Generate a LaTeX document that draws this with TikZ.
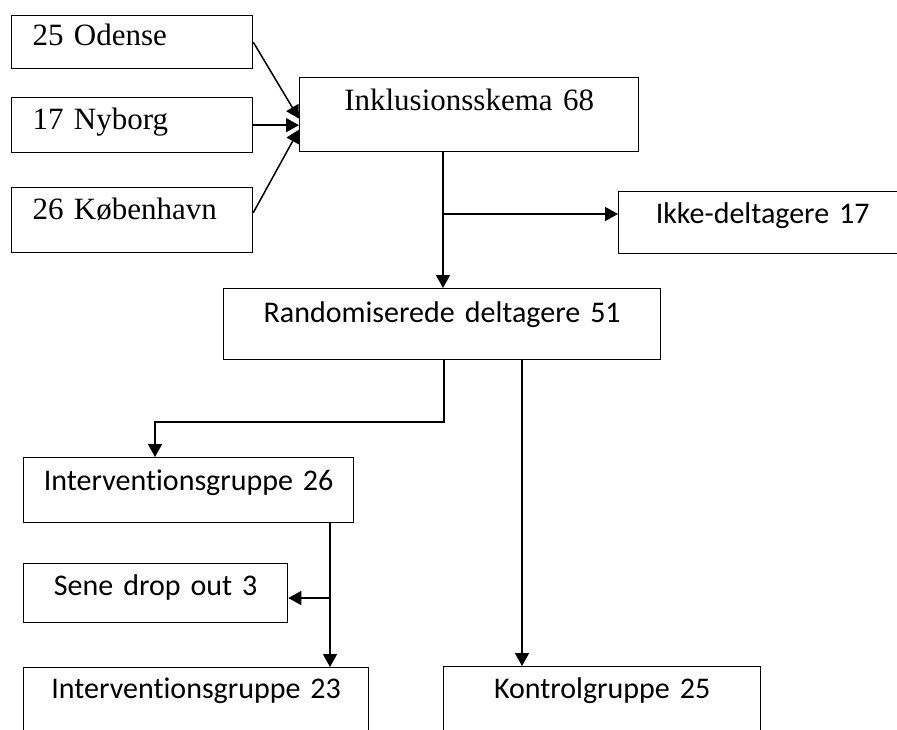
\documentclass[tikz,border=0pt]{standalone}
\usepackage{fontspec}
\setmainfont{Liberation Serif}
\newfontfamily\calfont[Ligatures={NoCommon}]{Carlito}
\usetikzlibrary{arrows.meta,calc}
\begin{document}
\begin{tikzpicture}[x=1pt,y=-1pt,
  box/.style={draw, line width=1.3pt, inner sep=0pt, anchor=north west, align=center},
  serifbox/.style={box, font=\fontsize{31}{33}\selectfont, align=left},
  serifc/.style={box, font=\fontsize{31}{33}\selectfont},
  calbox/.style={box, font=\calfont\fontsize{30}{32}\selectfont},
  ln/.style={line width=1.5pt},
  arr/.style={line width=1.5pt, -{Triangle[length=13pt,width=14pt]}}]
\useasboundingbox (0,0) rectangle (897,729);
\clip (0,0) rectangle (897,729);

\node[serifbox, text width=241pt, text height=30pt, text depth=23pt] (ode) at (11,15) {\hspace*{21pt}25 Odense};
\node[serifbox, text width=241pt, text height=32pt, text depth=23pt] (nyb) at (11,97) {\hspace*{21pt}17 Nyborg};
\node[serifbox, text width=241pt, text height=32pt, text depth=33pt] (kob) at (11,187) {\hspace*{21pt}26 København};
\node[serifc, text width=339pt, text height=33pt, text depth=41pt] (inkl) at (299,77) {Inklusionsskema 68};
\node[calbox, text width=288pt, text height=32pt, text depth=30pt] (ikke) at (618,191) {Ikke-deltagere 17};
\node[calbox, text width=437pt, text height=34pt, text depth=37pt] (rand) at (223,288) {Randomiserede deltagere 51};
\node[calbox, text width=330pt, text height=33pt, text depth=32pt] (int26) at (23,457) {Interventionsgruppe 26};
\node[calbox, text width=264pt, text height=32pt, text depth=27pt] (sene) at (23,563) {Sene drop out 3};
\node[calbox, text width=345pt, text height=31pt, text depth=47pt] (int23) at (23,667) {Interventionsgruppe 23};
\node[calbox, text width=317pt, text height=32pt, text depth=47pt] (kontrol) at (443,666) {Kontrolgruppe 25};

\coordinate (j1) at (443,214);
\coordinate (j2) at (444,422);
\coordinate (j3) at (155,422);
\coordinate (j4) at (522,400);
\coordinate (j5) at (330,598);

\draw[arr] (ode.east) -- ([yshift=-4pt]inkl.west);
\draw[arr] (nyb.east) -- (inkl.west |- nyb.east);
\draw[arr] ([yshift=7.5pt]kob.east) -- ([yshift=-15pt]inkl.west);

\draw[arr] (inkl.south -| j1) -- (rand.north -| j1);
\draw[arr] (j1) -- (ikke.west |- j1);

\draw[arr] (rand.south -| j2) -- (j2) -- (j3) -- (int26.north -| j3);
\draw[arr] (rand.south -| j4) -- (kontrol.north -| j4);

\draw[arr] (int26.south -| j5) -- (int23.north -| j5);
\draw[arr] (j5) -- (sene.east |- j5);
\end{tikzpicture}
\end{document}
